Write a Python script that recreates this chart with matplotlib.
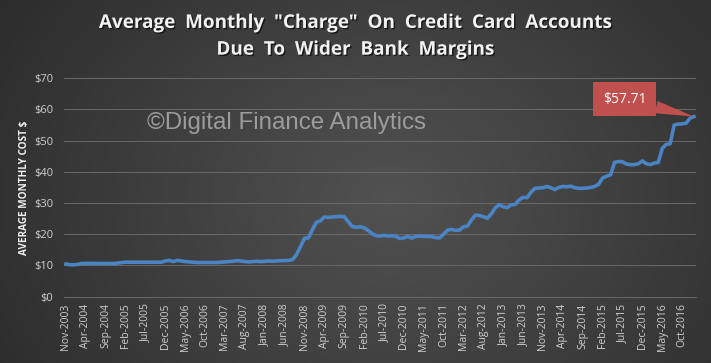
import numpy as np
import pandas as pd
import matplotlib
matplotlib.use("Agg")
import matplotlib.pyplot as plt
import matplotlib.patheffects as pe

# monthly average charge, Nov-2003 .. Jan-2017
months_start = "2003-11"
values = [
    10.4, 10.2, 10.2, 10.3, 10.6, 10.6, 10.6, 10.6, 10.6, 10.6,          # Nov03-Aug04
    10.6, 10.6, 10.6, 10.7, 10.9, 11.0, 11.0, 11.0, 11.0, 11.0,          # Sep04-Jun05
    11.0, 11.0, 11.0, 11.0, 11.0, 11.4, 11.6, 11.2, 11.6, 11.4,          # Jul05-Apr06
    11.2, 11.1, 11.0, 10.9, 10.9, 10.9, 10.9, 10.9, 10.9, 11.0,          # May06-Feb07
    11.1, 11.2, 11.3, 11.5, 11.4, 11.2, 11.1, 11.2, 11.3, 11.2,          # Mar07-Dec07
    11.3, 11.4, 11.3, 11.4, 11.5, 11.5, 11.6, 11.8, 13.5, 16.0,          # Jan08-Oct08
    18.7, 18.8, 21.5, 23.8, 24.3, 25.5, 25.4, 25.5, 25.6, 25.7,          # Nov08-Aug09
    25.6, 24.0, 22.5, 22.2, 22.4, 22.0, 21.2, 20.2, 19.5, 19.4,          # Sep09-Jun10
    19.6, 19.4, 19.5, 19.3, 18.6, 18.8, 19.3, 18.7, 19.3, 19.4,          # Jul10-Apr11
    19.3, 19.3, 19.2, 18.9, 18.8, 20.0, 21.3, 21.5, 21.2, 21.3,          # May11-Feb12
    22.3, 22.6, 24.5, 26.1, 26.0, 25.6, 25.1, 26.5, 28.5, 29.4,          # Mar12-Dec12
    28.8, 28.5, 29.4, 29.5, 31.0, 31.8, 31.7, 33.5, 34.7, 34.8,          # Jan13-Oct13
    34.9, 35.3, 34.9, 34.3, 35.0, 35.3, 35.2, 35.4, 34.9, 34.7,          # Nov13-Aug14
    34.7, 34.8, 35.0, 35.3, 36.0, 38.0, 38.6, 39.0, 43.0, 43.3,          # Sep14-Jun15
    43.2, 42.5, 42.3, 42.3, 42.6, 43.5, 42.6, 42.3, 42.8, 43.0,          # Jul15-Apr16
    47.5, 48.8, 49.0, 55.0, 55.3, 55.4, 55.6, 57.2, 57.71,               # May16-Jan17
]
dates = pd.period_range(months_start, periods=len(values), freq="M")
labels = [d.strftime("%b-%Y") for d in dates]
yticks = [0, 10, 20, 30, 40, 50, 60, 70]
callout_text = "$57.71"

plt.rcParams["font.family"] = ["Open Sans", "DejaVu Sans"]

fig = plt.figure(figsize=(7.11, 3.63), dpi=100)

# background gradient
bg = fig.add_axes([0, 0, 1, 1], zorder=-10)
gx, gy = np.meshgrid(np.linspace(0, 1, 300), np.linspace(0, 1, 150))
r = np.sqrt(((gx - 0.55) / 0.75) ** 2 + ((gy - 0.45) / 1.2) ** 2)
shade = 0.32 - 0.17 * np.clip(r, 0, 1)
bg.imshow(np.dstack([shade] * 3), aspect="auto", extent=[0, 1, 0, 1], origin="lower")
bg.axis("off")

ax = fig.add_axes([64 / 711, 1 - 296.5 / 363, 632 / 711, 218.2 / 363])
ax.patch.set_alpha(0)
x = np.arange(len(values))
ax.plot(x, values, color="#4a84c4", lw=2.6, solid_joinstyle="round", zorder=3)

ax.set_xlim(-0.5, len(values) - 0.5)
ax.set_ylim(0, 70)
ax.set_yticks(yticks)
ax.set_yticklabels([f"${v}" for v in yticks])
ax.set_xticks(x[::5])
ax.set_xticklabels(labels[::5], rotation=90)
ax.tick_params(length=0, colors="#d0d0d0", labelsize=7.5)
ax.tick_params(axis="y", pad=8, labelsize=8)
ax.tick_params(axis="x", pad=5)
ax.grid(axis="y", color="#6a6a6a", lw=0.7)
for s in ["top", "right", "left"]:
    ax.spines[s].set_visible(False)
ax.spines["bottom"].set_color("#6a6a6a")
ax.spines["bottom"].set_linewidth(0.7)

ax.set_ylabel("AVERAGE MONTHLY COST $", color="#f0f0f0", fontsize=7.2,
              fontweight="bold", labelpad=4)
ax.yaxis.set_label_coords(-0.054, 0.5)

title = fig.text(0.5, 0.9, 'Average  Monthly  "Charge"  On  Credit  Card  Accounts\nDue  To  Wider  Bank  Margins',
                 ha="center", va="center", color="#f2f2f2", fontsize=13.6,
                 fontweight="bold", linespacing=1.45)
title.set_path_effects([pe.withSimplePatchShadow(offset=(1, -1), shadow_rgbFace="black", alpha=0.6)])

fig.text(147 / 711, 1 - 123 / 363, "\u00a9Digital Finance Analytics", color="#9c9c9c",
         fontsize=17.4, family=["Liberation Sans", "DejaVu Sans"], va="center", ha="left")

ax.annotate(callout_text, xy=(x[-1], values[-1]), xytext=(-50, 12.5), textcoords="offset points",
            ha="center", va="center", color="white", fontsize=10,
            bbox=dict(boxstyle="square,pad=0.7", fc="#c0504d", ec="none"),
            arrowprops=dict(arrowstyle="wedge,tail_width=0.9", fc="#c0504d", ec="none",
                            shrinkA=0, shrinkB=0),
            zorder=5)

fig.savefig("out.png", dpi=100)
